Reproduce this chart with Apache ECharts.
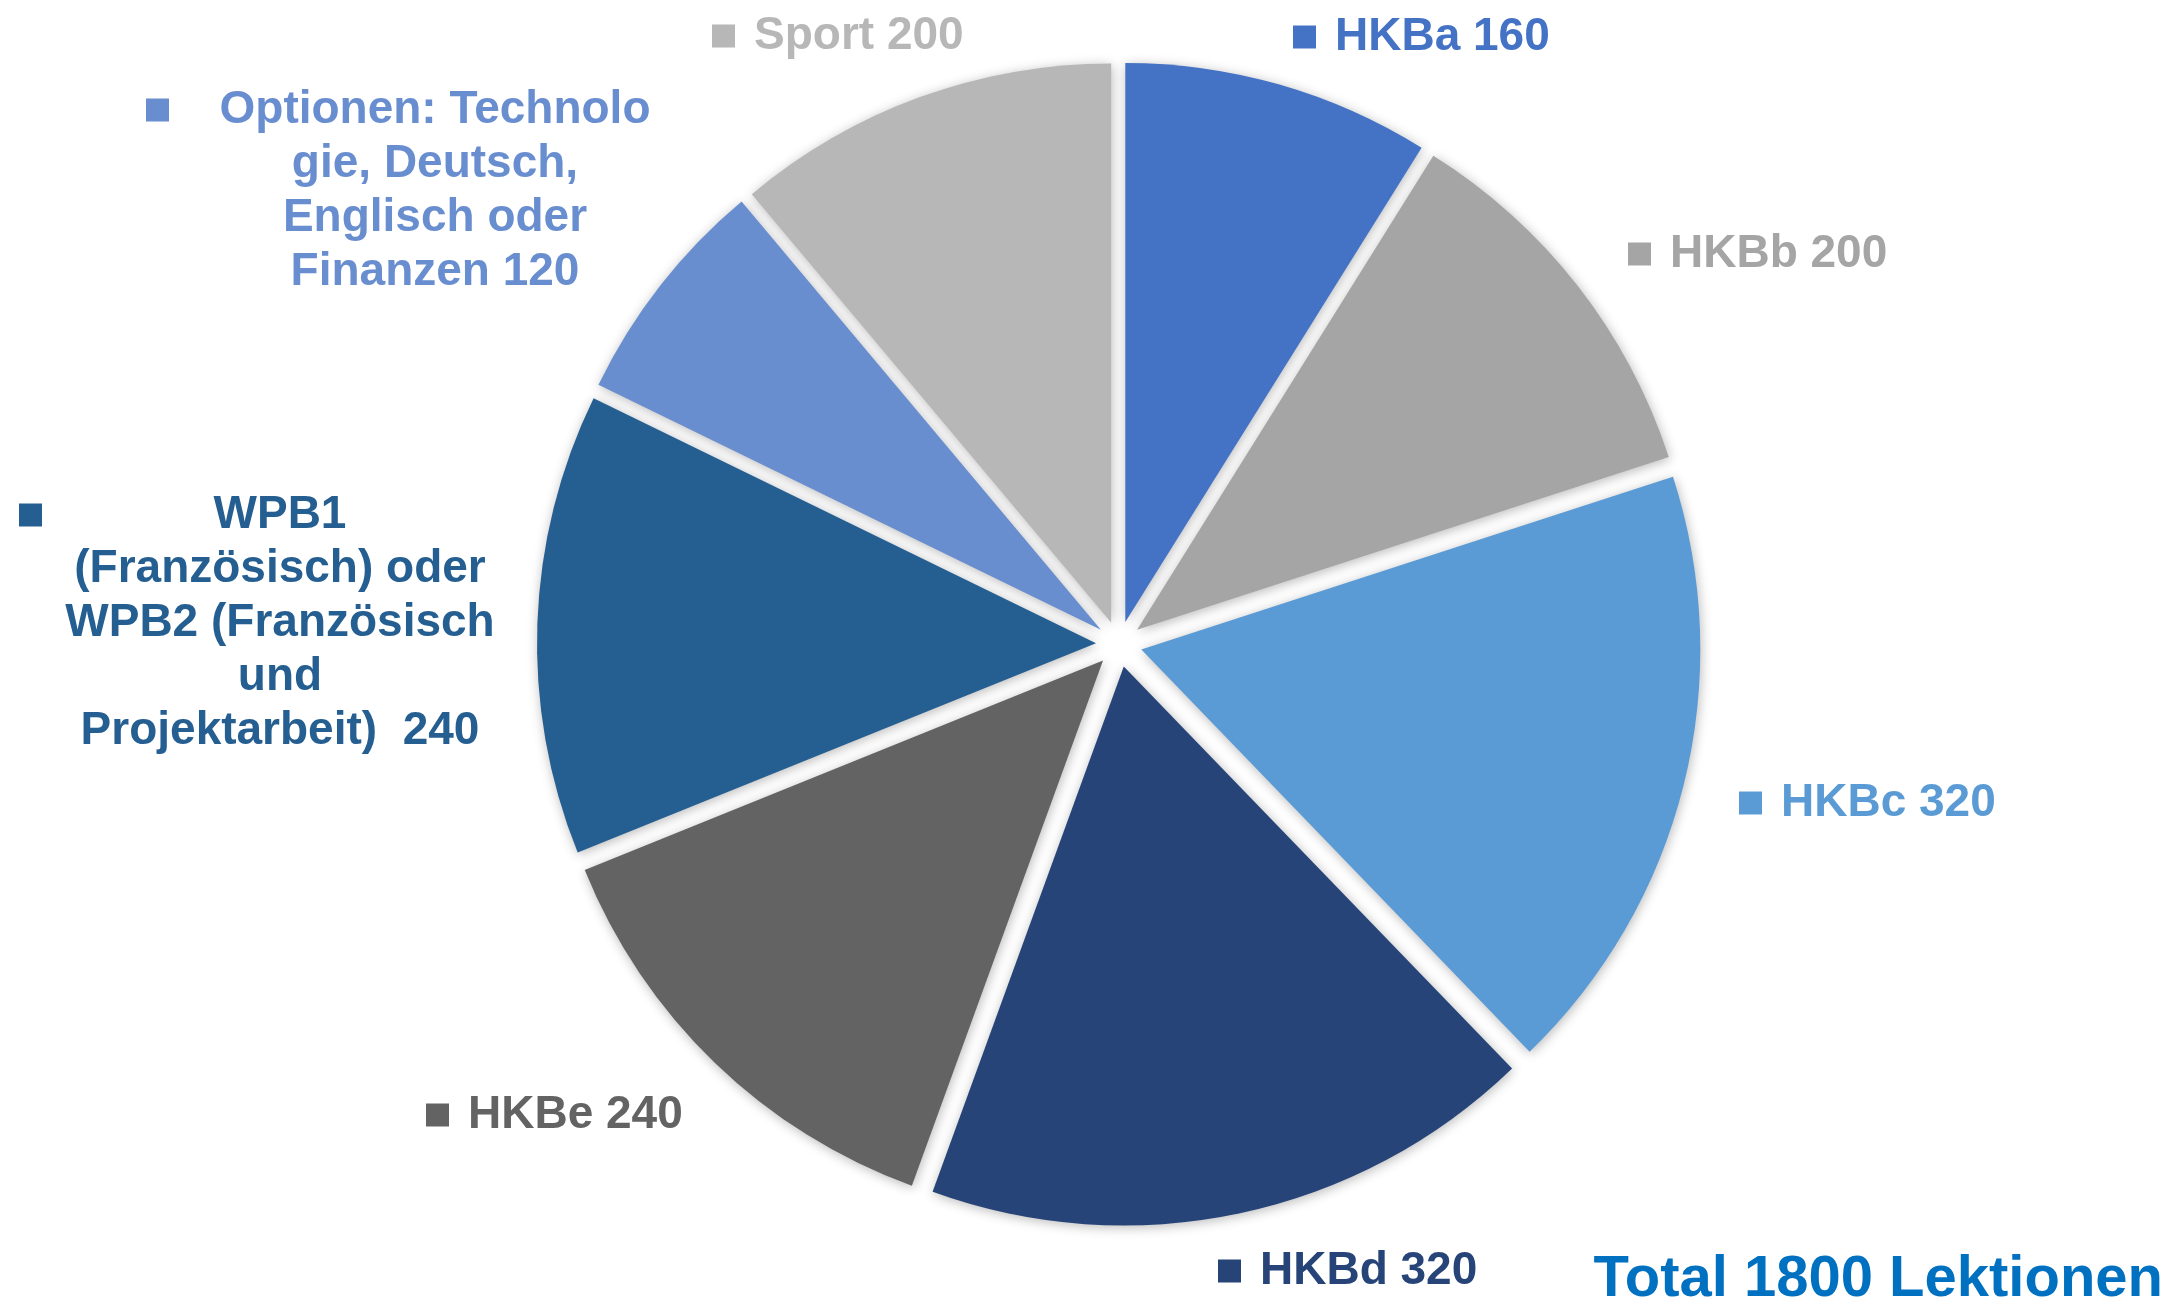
<!DOCTYPE html>
<html><head><meta charset="utf-8">
<script src="https://cdn.jsdelivr.net/npm/echarts@6/dist/echarts.min.js"></script>
<style>html,body{margin:0;padding:0;background:#fff}#c{width:2178px;height:1300px}</style>
</head><body><div id="c"></div>
<script>
// ---- data ----
const categories = [
  'HKBa',
  'HKBb',
  'HKBc',
  'HKBd',
  'HKBe',
  'WPB1\n(Französisch) oder\nWPB2 (Französisch\nund\nProjektarbeit) ',
  'Optionen: Technolo\ngie, Deutsch,\nEnglisch oder\nFinanzen',
  'Sport'
];
const values = [160, 200, 320, 320, 240, 240, 120, 200];
const colors = ['#4472C4', '#A5A5A5', '#5B9BD5', '#264478', '#636363', '#255E91', '#698ED0', '#B7B7B7'];
const totalLabel = ['Total', 'Lektionen'];

// ---- layout (label boxes: left x, top y, block width) ----
const labelBoxes = [
  [1293, 10, null],
  [1628, 227, null],
  [1739, 776, null],
  [1218, 1244, null],
  [426, 1088, null],
  [19, 488, 522],
  [146, 83, 578],
  [712, 9, null]
];

const FONT = '"Liberation Sans", Arial, sans-serif';
const FS = 46, LH = 54, SQ = 23, GAP = 19;
const CENTER = [1119, 644], RADIUS = 559;

const rich = {
  gapL: { width: GAP, align: 'left', verticalAlign: 'middle' },
  gapR: { width: GAP, align: 'right', verticalAlign: 'middle' },
  sqR: { width: SQ, height: SQ, align: 'right', verticalAlign: 'middle' }
};
colors.forEach(function (c, i) {
  rich['sq' + i] = { width: SQ, height: SQ, backgroundColor: c, align: 'left', verticalAlign: 'middle' };
  rich['t' + i] = { color: c, fontSize: FS, fontWeight: 'bold', fontFamily: FONT, lineHeight: LH, align: 'center', verticalAlign: 'middle' };
});

// exploded slices
const sliceData = categories.map(function (n, i) {
  return {
    name: n, value: values[i], selected: true,
    itemStyle: { color: colors[i] },
    select: { itemStyle: { color: colors[i], borderWidth: 0 } }
  };
});
// label carrier (same values, invisible fill)
const labelData = categories.map(function (n, i) {
  const item = { name: n, value: values[i], itemStyle: { color: 'rgba(0,0,0,0)' } };
  if (labelBoxes[i][2]) item.label = { width: labelBoxes[i][2] };
  return item;
});

const total = values.reduce(function (a, b) { return a + b; }, 0);

const chart = echarts.init(document.getElementById('c'), null, { renderer: 'canvas' });
chart.setOption({
  backgroundColor: '#ffffff',
  animation: false,
  title: {
    text: totalLabel[0] + ' ' + total + ' ' + totalLabel[1],
    right: 15, top: 1251, padding: 0,
    textStyle: { color: '#0070C0', fontSize: 58, fontWeight: 'bold', fontFamily: FONT }
  },
  series: [{
    type: 'pie',
    center: CENTER,
    radius: RADIUS,
    startAngle: 90,
    clockwise: true,
    selectedMode: 'multiple',
    selectedOffset: 23,
    silent: true,
    emphasis: { disabled: true },
    itemStyle: {
      borderWidth: 0,
      shadowBlur: 12, shadowColor: 'rgba(0,0,0,0.28)', shadowOffsetX: 1, shadowOffsetY: 2
    },
    label: { show: false },
    labelLine: { show: false },
    data: sliceData
  }, {
    type: 'pie',
    center: CENTER,
    radius: RADIUS,
    startAngle: 90,
    clockwise: true,
    avoidLabelOverlap: false,
    silent: true,
    emphasis: { disabled: true },
    itemStyle: { borderWidth: 0 },
    label: {
      show: true,
      position: 'inside',
      overflow: 'none',
      formatter: function (p) {
        const i = p.dataIndex;
        const lines = p.name.split('\n');
        lines[lines.length - 1] += ' ' + p.value;
        return lines.map(function (l, k) {
          if (k === 0) return '{sq' + i + '|}{gapL|}{t' + i + '|' + l + '}{gapR|}{sqR|}';
          return '{t' + i + '|' + l + '}';
        }).join('\n');
      },
      rich: rich
    },
    labelLine: { show: false },
    labelLayout: function (params) {
      const b = labelBoxes[params.dataIndex];
      return { x: b[0], y: b[1], align: 'left', verticalAlign: 'top' };
    },
    data: labelData
  }]
});
</script>
</body></html>
